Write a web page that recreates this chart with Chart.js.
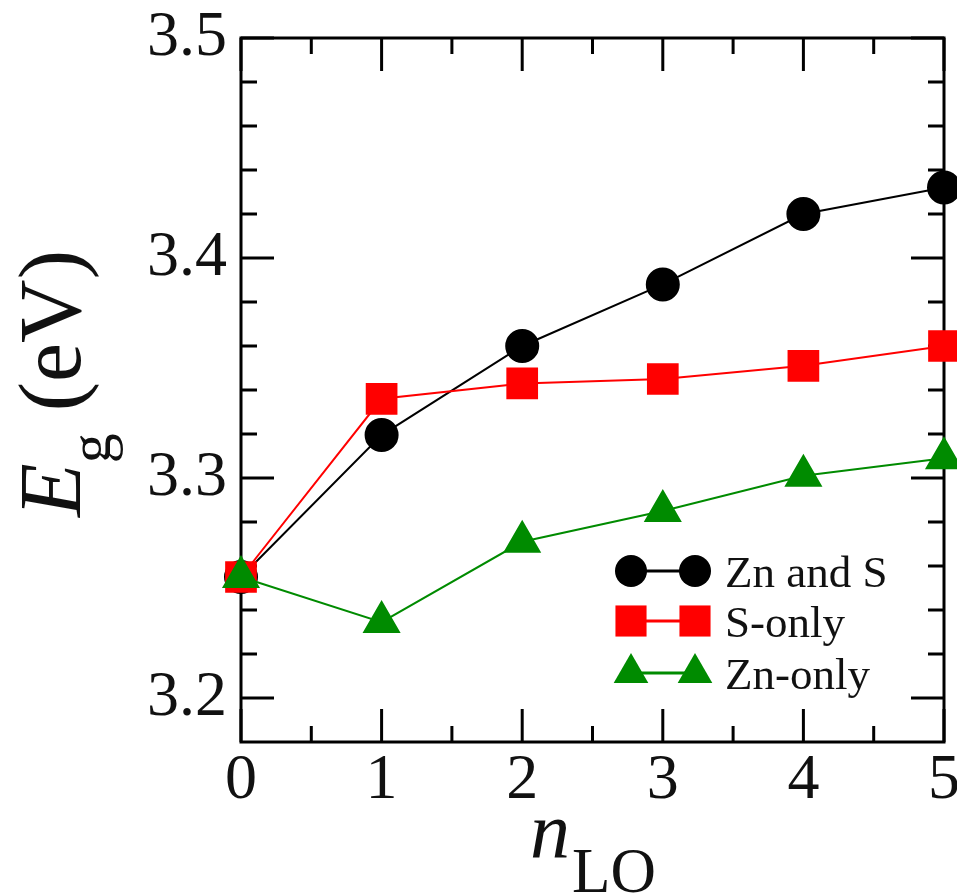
<!DOCTYPE html>
<html>
<head>
<meta charset="utf-8">
<script src="https://cdn.jsdelivr.net/npm/chart.js@4/dist/chart.umd.min.js"></script>
<style>
  html, body { margin: 0; padding: 0; background: #fff; }
  #wrap { width: 957px; height: 894px; position: relative; }
</style>
</head>
<body>
<div id="wrap"><canvas id="c" width="957" height="894"></canvas></div>
<script>
// Number of LO phonons
const nLO = [0, 1, 2, 3, 4, 5];

// Band gap E_g (eV) for each substitution scheme
const znAndS = [3.255, 3.3195, 3.360, 3.388, 3.420, 3.432];
const sOnly  = [3.255, 3.336, 3.343, 3.345, 3.351, 3.360];
const znOnly = [3.255, 3.2345, 3.271, 3.285, 3.301, 3.309];

const seriesNames = ['Zn and S', 'S-only', 'Zn-only'];

// Axis tick labels
const xTickValues = [0, 1, 2, 3, 4, 5];
const yTickValues = [3.2, 3.3, 3.4, 3.5];

const SERIF = '"Liberation Serif", "Times New Roman", serif';

function toPoints(ys) { return nLO.map((x, i) => ({ x: x, y: ys[i] })); }

// Frame with inward major/minor ticks on all four sides
const framePlugin = {
  id: 'frame',
  beforeDatasetsDraw(chart) {
    const { ctx, chartArea: a, scales } = chart;
    const xs = scales.x, ys = scales.y;
    ctx.save();
    ctx.strokeStyle = '#000';
    ctx.lineWidth = 3;
    ctx.lineCap = 'butt';
    ctx.strokeRect(a.left, a.top, a.right - a.left, a.bottom - a.top);
    const major = 33, minor = 16;
    ctx.beginPath();
    // x ticks every 0.5, major on integers
    for (let k = 0; k <= 10; k++) {
      const v = k * 0.5;
      const px = xs.getPixelForValue(v);
      const len = (k % 2 === 0) ? major : minor;
      ctx.moveTo(px, a.bottom); ctx.lineTo(px, a.bottom - len);
      ctx.moveTo(px, a.top); ctx.lineTo(px, a.top + len);
    }
    // y ticks every 0.02, major every 0.1
    for (let k = 0; k <= 15; k++) {
      const v = 3.2 + k * 0.02;
      const py = ys.getPixelForValue(v);
      const len = (k % 5 === 0) ? major : minor;
      ctx.moveTo(a.left, py); ctx.lineTo(a.left + len, py);
      ctx.moveTo(a.right, py); ctx.lineTo(a.right - len, py);
    }
    ctx.stroke();
    ctx.restore();
  }
};

// Axis titles with subscripts, and the marker-line-marker legend
const labelsPlugin = {
  id: 'labels',
  afterDraw(chart) {
    const { ctx } = chart;
    ctx.save();
    ctx.fillStyle = '#111';
    ctx.textBaseline = 'alphabetic';
    ctx.textAlign = 'left';

    // y title: E_g (eV), rotated
    ctx.save();
    ctx.translate(80, 517);
    ctx.rotate(-Math.PI / 2);
    ctx.font = 'italic 88px ' + SERIF;
    ctx.fillText('E', 0, 0);
    let w = ctx.measureText('E').width;
    ctx.font = '60px ' + SERIF;
    ctx.fillText('g', w, 30);
    w += ctx.measureText('g').width;
    ctx.font = '88px ' + SERIF;
    ctx.fillText(' (eV)', w, 0);
    ctx.restore();

    // x title: n_LO
    ctx.font = 'italic 80px ' + SERIF;
    ctx.fillText('n', 530, 857);
    ctx.font = '63px ' + SERIF;
    ctx.fillText('LO', 572, 892);

    // legend
    const rows = [571, 621, 673];
    chart.data.datasets.forEach((ds, i) => {
      const y = rows[i];
      ctx.strokeStyle = ds.borderColor;
      ctx.lineWidth = 3;
      ctx.beginPath();
      ctx.moveTo(631, y); ctx.lineTo(695, y);
      ctx.stroke();
      const opts = {
        pointStyle: ds.pointStyle,
        radius: ds.legendRadius,
        rotation: 0,
        borderWidth: 0
      };
      ctx.fillStyle = ds.pointBackgroundColor;
      ctx.strokeStyle = ds.pointBackgroundColor;
      Chart.helpers.drawPoint(ctx, opts, 631, y);
      Chart.helpers.drawPoint(ctx, opts, 695, y);
      ctx.fillStyle = '#111';
      ctx.font = '45px ' + SERIF;
      ctx.fillText(seriesNames[i], 725, y + 16);
    });
    ctx.restore();
  }
};

const chart = new Chart(document.getElementById('c'), {
  type: 'line',
  data: {
    datasets: [
      {
        label: seriesNames[0], data: toPoints(znAndS),
        borderColor: '#000', backgroundColor: '#000',
        pointBackgroundColor: '#000', pointBorderColor: '#000',
        pointStyle: 'circle', pointRadius: 16, legendRadius: 16,
        borderWidth: 2, order: 2
      },
      {
        label: seriesNames[1], data: toPoints(sOnly),
        borderColor: '#ff0000', backgroundColor: '#ff0000',
        pointBackgroundColor: '#ff0000', pointBorderColor: '#ff0000',
        pointStyle: 'rect', pointRadius: 21, legendRadius: 22,
        borderWidth: 2, order: 1
      },
      {
        label: seriesNames[2], data: toPoints(znOnly),
        borderColor: '#008b00', backgroundColor: '#008b00',
        pointBackgroundColor: '#008b00', pointBorderColor: '#008b00',
        pointStyle: 'triangle', pointRadius: 20, legendRadius: 20,
        borderWidth: 2, order: 0
      }
    ]
  },
  options: {
    responsive: false,
    animation: false,
    events: [],
    layout: { autoPadding: false, padding: { top: 38, right: 13, left: 0, bottom: 0 } },
    elements: { point: { borderWidth: 0, hoverRadius: 0 }, line: { tension: 0 } },
    datasets: { line: { clip: false } },
    plugins: { legend: { display: false }, tooltip: { enabled: false } },
    scales: {
      x: {
        type: 'linear', min: 0, max: 5,
        grid: { display: false, drawTicks: false },
        border: { display: false },
        afterBuildTicks(s) { s.ticks = xTickValues.map(v => ({ value: v })); },
        afterFit(s) { s.height = 152; s.paddingLeft = 0; s.paddingRight = 0; },
        ticks: {
          padding: 7, color: '#111', maxRotation: 0, autoSkip: false,
          font: { family: SERIF, size: 64, lineHeight: 1 },
          callback: v => String(v)
        }
      },
      y: {
        type: 'linear', min: 3.18, max: 3.5,
        grid: { display: false, drawTicks: false },
        border: { display: false },
        afterBuildTicks(s) { s.ticks = yTickValues.map(v => ({ value: v })); },
        afterFit(s) { s.width = 241; s.paddingTop = 0; s.paddingBottom = 0; },
        ticks: {
          padding: 14, color: '#111', autoSkip: false,
          font: { family: SERIF, size: 64, lineHeight: 1 },
          callback: v => Number(v).toFixed(1)
        }
      }
    }
  },
  plugins: [framePlugin, labelsPlugin]
});
</script>
</body>
</html>
